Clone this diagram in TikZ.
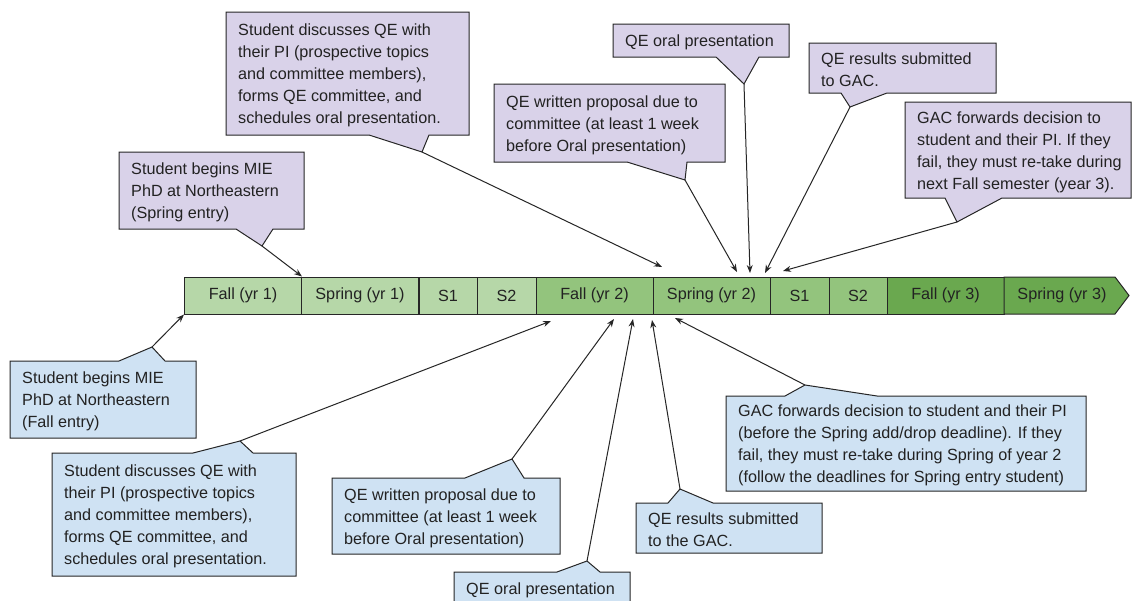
\documentclass[tikz,border=0pt]{standalone}
\usepackage{fontspec}
\setmainfont{Liberation Sans}
\usetikzlibrary{arrows.meta}
\definecolor{pu}{HTML}{D9D2E9}
\definecolor{bl}{HTML}{CFE2F3}
\definecolor{ga}{HTML}{B6D7A8}
\definecolor{gb}{HTML}{93C47D}
\definecolor{gc}{HTML}{6AA84F}
\definecolor{tx}{HTML}{222222}
\tikzset{
  box/.style={draw=black!85, line width=1pt, line join=miter},
  pubox/.style={box, fill=pu},
  blbox/.style={box, fill=bl},
  lbl/.style={anchor=west, align=left, inner sep=0pt, text=tx, yshift=-2pt,
    font=\fontsize{16.2}{22}\selectfont},
  cell/.style={draw=black!85, line width=1pt, inner sep=0pt, minimum height=37pt,
    text=tx, font=\fontsize{16.2}{22}\selectfont},
  conn/.style={draw=black!85, line width=1pt, -{Stealth[length=8pt,width=6pt]}}
}
\begin{document}
\begin{tikzpicture}[x=1pt,y=-1pt]
\clip (0,0) rectangle (1133,600);
\fill[white] (0,0) rectangle (1133,600);
% timeline
\node[cell, fill=ga, minimum width=117pt] (f1) at (243,295.5) {Fall (yr 1)};
\node[cell, fill=ga, minimum width=117pt] (s1) at (360,295.5) {Spring (yr 1)};
\node[cell, fill=ga, minimum width=58pt] (u1) at (448,295.5) {S1};
\node[cell, fill=ga, minimum width=59pt] (v1) at (506.5,295.5) {S2};
\node[cell, fill=gb, minimum width=117pt] (f2) at (594.5,295.5) {Fall (yr 2)};
\node[cell, fill=gb, minimum width=117pt] (s2) at (711.5,295.5) {Spring (yr 2)};
\node[cell, fill=gb, minimum width=59pt] (u2) at (799.5,295.5) {S1};
\node[cell, fill=gb, minimum width=58pt] (v2) at (858,295.5) {S2};
\node[cell, fill=gc, minimum width=117pt] (f3) at (945.5,295.5) {Fall (yr 3)};
\path[box, fill=gc] (1004,277) -- (1115,277) -- (1129,295.5) -- (1115,314) -- (1004,314) -- cycle;
\node[cell, draw=none] (s3) at (1062,295.5) {Spring (yr 3)};

% top callouts (purple)
\path[pubox] (119,152) -- (304,152) -- (304,229) -- (273,229) -- (262,246) -- (236,229) -- (119,229) -- cycle;
\node[lbl] (c1) at (131,190.5) {Student begins MIE\\PhD at Northeastern\\(Spring entry)};
\coordinate (p1) at (262,246);

\path[pubox] (226,12) -- (469,12) -- (469,135) -- (429,135) -- (422,152) -- (369,135) -- (226,135) -- cycle;
\node[lbl] (c2) at (238,73.5) {Student discusses QE with\\their PI (prospective topics\\and committee members),\\forms QE committee, and\\schedules oral presentation.};
\coordinate (p2) at (422,152);

\path[pubox] (494,84) -- (725,84) -- (725,162) -- (687,162) -- (685,180) -- (627,162) -- (494,162) -- cycle;
\node[lbl] (c3) at (506,123) {QE written proposal due to\\committee (at least 1 week\\before Oral presentation)};
\coordinate (p3) at (685,180);

\path[pubox] (613,24) -- (789,24) -- (789,57) -- (759,57) -- (744,84) -- (716,57) -- (613,57) -- cycle;
\node[lbl] (c4) at (625,40.5) {QE oral presentation};
\coordinate (p4) at (744,84);

\path[pubox] (809,43) -- (996,43) -- (996,93) -- (887,93) -- (850,107) -- (841,93) -- (809,93) -- cycle;
\node[lbl] (c5) at (821,68) {QE results submitted\\to GAC.};
\coordinate (p5) at (850,107);

\path[pubox] (905,102) -- (1131,102) -- (1131,198) -- (1002,198) -- (957,222) -- (945,198) -- (905,198) -- cycle;
\node[lbl] (c6) at (917,150) {GAC forwards decision to\\student and their PI. If they\\fail, they must re-take during\\next Fall semester (year 3).};
\coordinate (p6) at (957,222);

% bottom callouts (blue)
\path[blbox] (10,361) -- (119,361) -- (152,347) -- (165,361) -- (196,361) -- (196,438) -- (10,438) -- cycle;
\node[lbl] (c7) at (22,399.5) {Student begins MIE\\PhD at Northeastern\\(Fall entry)};
\coordinate (p7) at (152,347);

\path[blbox] (52,453) -- (193,453) -- (240,441) -- (253,453) -- (296,453) -- (296,576) -- (52,576) -- cycle;
\node[lbl] (c8) at (64,514.5) {Student discusses QE with\\their PI (prospective topics\\and committee members),\\forms QE committee, and\\schedules oral presentation.};
\coordinate (p8) at (240,441);

\path[blbox] (332,478) -- (465,478) -- (512,459) -- (524,478) -- (560,478) -- (560,554) -- (332,554) -- cycle;
\node[lbl] (c9) at (344,516) {QE written proposal due to\\committee (at least 1 week\\before Oral presentation)};
\coordinate (p9) at (512,459);

\path[blbox] (454,572) -- (557,572) -- (587,561) -- (600,572) -- (630,572) -- (630,606) -- (454,606) -- cycle;
\node[lbl] (c10) at (466,588.5) {QE oral presentation};
\coordinate (p10) at (587,561);

\path[blbox] (636,503) -- (668,503) -- (680,489) -- (713,503) -- (822,503) -- (822,553) -- (636,553) -- cycle;
\node[lbl] (c11) at (648,528) {QE results submitted\\to the GAC.};
\coordinate (p11) at (680,489);

\path[blbox] (726,396) -- (785,396) -- (805,385) -- (877,396) -- (1086,396) -- (1086,491) -- (726,491) -- cycle;
\node[lbl] (c12) at (738,443.5) {GAC forwards decision to student and their PI\\(before the Spring add/drop deadline). If they\\fail, they must re-take during Spring of year 2\\(follow the deadlines for Spring entry student)};
\coordinate (p12) at (805,385);

% arrow targets
\coordinate (q2) at (662,267);
\coordinate (q3) at (737,272);
\coordinate (q4) at (750,273);
\coordinate (q5) at (765,273);
\coordinate (q6) at (783,271);
\coordinate (q8) at (551,321);
\coordinate (q9) at (614,319);
\coordinate (q10) at (633,319);
\coordinate (q11) at (652,320);
\coordinate (q12) at (675,318);

% connectors
\draw[conn] (p1) -- (f1.north east);
\draw[conn] (p2) -- (q2);
\draw[conn] (p3) -- (q3);
\draw[conn] (p4) -- (q4);
\draw[conn] (p5) -- (q5);
\draw[conn] (p6) -- (q6);
\draw[conn] (p7) -- (f1.south west);
\draw[conn] (p8) -- (q8);
\draw[conn] (p9) -- (q9);
\draw[conn] (p10) -- (q10);
\draw[conn] (p11) -- (q11);
\draw[conn] (p12) -- (q12);
\end{tikzpicture}
\end{document}
